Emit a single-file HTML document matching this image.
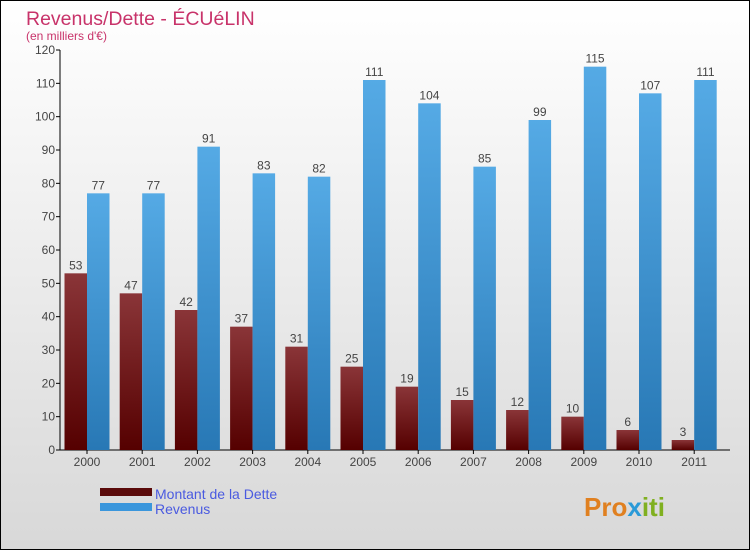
<!DOCTYPE html>
<html><head><meta charset="utf-8"><style>
body{margin:0}
svg{display:block;font-family:"Liberation Sans","DejaVu Sans",sans-serif}
</style></head><body>
<svg width="750" height="550" viewBox="0 0 750 550">
<defs>
<linearGradient id="bg" x1="0" y1="0" x2="0" y2="1"><stop offset="0" stop-color="#ffffff"/><stop offset="1" stop-color="#d8d8d8"/></linearGradient>
<linearGradient id="gd" x1="0" y1="0" x2="0" y2="1"><stop offset="0" stop-color="#8a3538"/><stop offset="1" stop-color="#550000"/></linearGradient>
<linearGradient id="gr" x1="0" y1="0" x2="0" y2="1"><stop offset="0" stop-color="#55aae5"/><stop offset="1" stop-color="#2878b5"/></linearGradient>
</defs>
<rect x="0.5" y="0.5" width="749" height="549" fill="url(#bg)" stroke="#000"/>
<text x="26" y="25" font-size="19.5" fill="#c8336a">Revenus/Dette - ÉCUéLIN</text>
<text x="26" y="40" font-size="12" fill="#c8336a">(en milliers d'€)</text>
<g id="axes"></g>
<g id="bars"></g>
<g>
<rect x="100" y="488" width="52" height="8" fill="#5a0a0a"/>
<text x="155" y="499" font-size="14" fill="#4a5ae0">Montant de la Dette</text>
<rect x="100" y="503" width="52" height="8" fill="#3a96dc"/>
<text x="155" y="514" font-size="14" fill="#4a5ae0">Revenus</text>
</g>
<text x="584" y="516" font-size="26" font-weight="bold" fill="#e08020">Pro<tspan fill="#2a9ad8">x</tspan><tspan fill="#80b020">iti</tspan></text>
</svg>
<script>
const years=["2000","2001","2002","2003","2004","2005","2006","2007","2008","2009","2010","2011"];
const dette=[53,47,42,37,31,25,19,15,12,10,6,3];
const revenus=[77,77,91,83,82,111,104,85,99,115,107,111];
const yTicks=[0,10,20,30,40,50,60,70,80,90,100,110,120];
const NS="http://www.w3.org/2000/svg";
const y0=450,yTop=50,yMax=120,x0=60,step=55.2,bw=22.5;
const yS=v=>y0-(y0-yTop)*v/yMax;
const xC=i=>x0+27+i*step;
function mk(tag,attrs,parent,txt){const e=document.createElementNS(NS,tag);for(const k in attrs)e.setAttribute(k,attrs[k]);if(txt!==undefined)e.textContent=txt;parent.appendChild(e);return e;}
const ax=document.getElementById('axes'),bars=document.getElementById('bars');
let e=mk('line',{x1:x0,y1:yTop,x2:x0,y2:y0,stroke:'#000'},ax);


e=mk('line',{x1:x0,y1:y0,x2:730,y2:y0,stroke:'#000'},ax);


yTicks.forEach(t=>{
 mk('line',{x1:x0-4,y1:yS(t),x2:x0,y2:yS(t),stroke:'#000'},ax);
 const l=mk('text',{x:x0-5,y:yS(t)+4,'font-size':12,'text-anchor':'end',fill:'#444'},ax,t);
 
 
});
years.forEach((yr,i)=>{
 const c=xC(i);
 mk('line',{x1:c,y1:y0,x2:c,y2:y0+4,stroke:'#000'},ax);
 const l=mk('text',{x:c,y:y0+16,'font-size':12,'text-anchor':'middle',fill:'#444'},ax,yr);
 
 
 const d=mk('rect',{x:c-bw,y:yS(dette[i]),width:bw,height:y0-yS(dette[i]),fill:'url(#gd)'},bars);
 
 
 const dl=mk('text',{x:c-bw/2,y:yS(dette[i])-4,'font-size':12,'text-anchor':'middle',fill:'#444'},bars,dette[i]);
 
 
 const r=mk('rect',{x:c,y:yS(revenus[i]),width:bw,height:y0-yS(revenus[i]),fill:'url(#gr)'},bars);
 
 
 const rl=mk('text',{x:c+bw/2,y:yS(revenus[i])-4,'font-size':12,'text-anchor':'middle',fill:'#444'},bars,revenus[i]);
 
 
});
</script>
</body></html>
